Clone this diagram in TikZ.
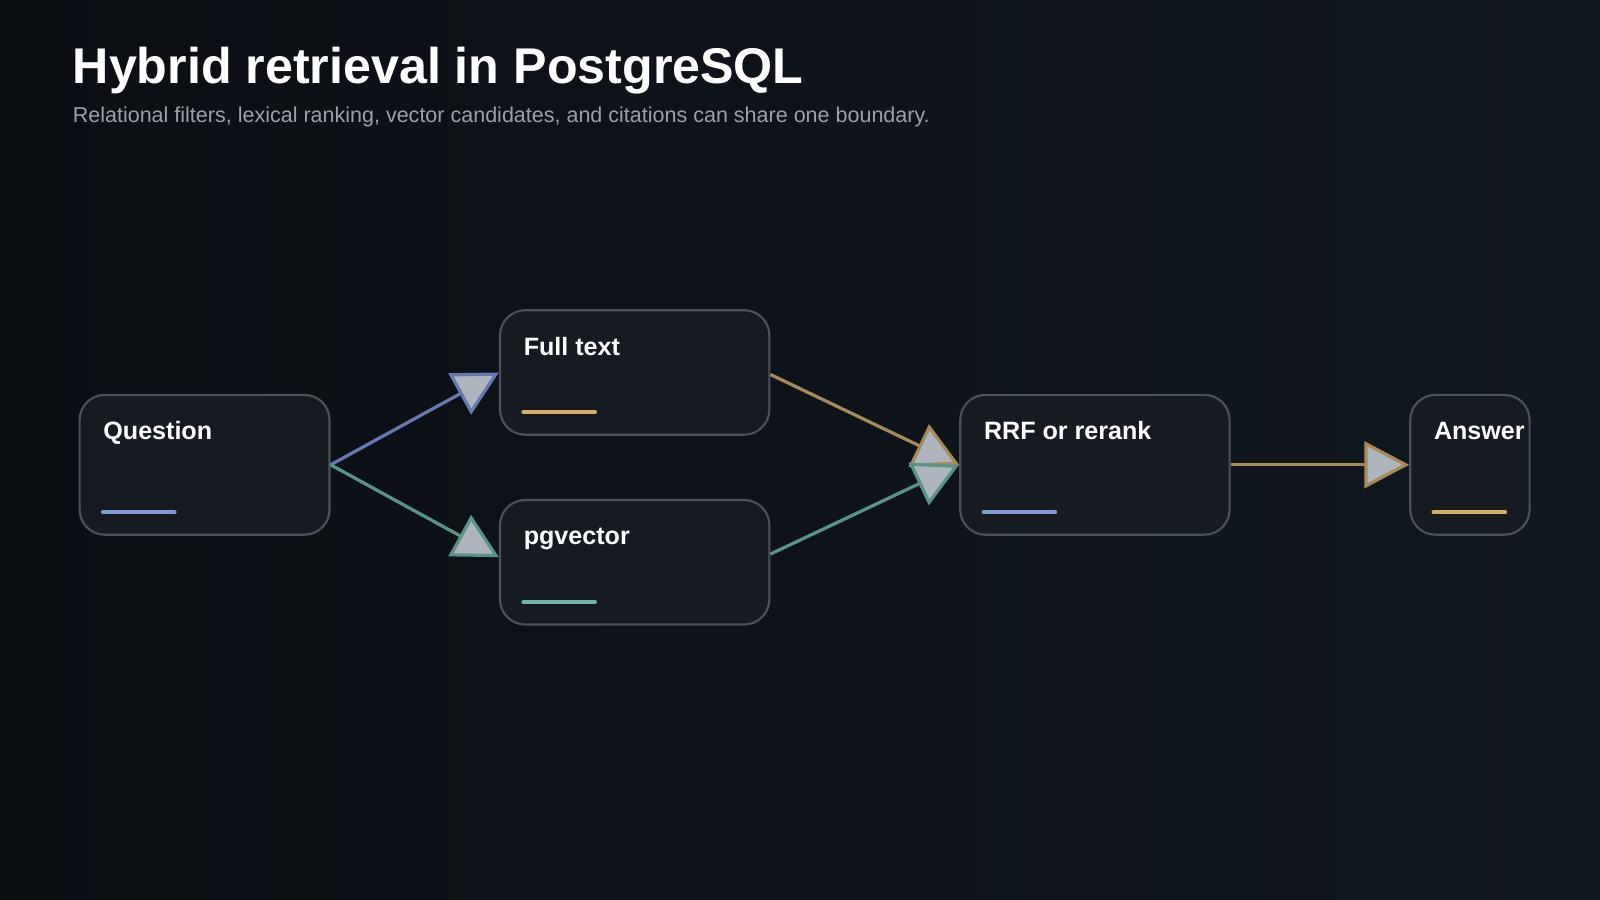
\documentclass[tikz,border=0pt]{standalone}
\usepackage{fontspec}
\setmainfont{Liberation Sans}
\usetikzlibrary{calc,positioning,arrows.meta}
\definecolor{bgA}{HTML}{0B0F14}
\definecolor{bgB}{HTML}{121820}
\definecolor{boxfill}{HTML}{161B22}
\definecolor{boxline}{HTML}{4B5159}
\definecolor{tipgray}{HTML}{AEB5BE}
\definecolor{subgray}{HTML}{9AA1AA}
\definecolor{barblue}{HTML}{7E9BD6}
\definecolor{bargold}{HTML}{D4AE63}
\definecolor{barteal}{HTML}{6BB3A3}
\definecolor{edgeblue}{HTML}{6679B0}
\definecolor{edgegold}{HTML}{A68A5A}
\definecolor{edgeteal}{HTML}{5A9486}
\tikzset{
% Box and label styles for the pipeline stages
stage/.style={rectangle,rounded corners=14,draw=boxline,line width=1.2,fill=boxfill,inner sep=0},
stage label/.style={anchor=base west,text=white,font=\bfseries\fontsize{14}{16}\selectfont,inner sep=0},
bar/.style={line width=2.4,line cap=round},
flow/.style={line width=1.8,-{Triangle[length=25pt,width=26pt,fill=tipgray]}}
}
\begin{document}
\begin{tikzpicture}[x=0.02cm,y=-0.02cm]
		% Background
		\shade[left color=bgA,right color=bgB] (0,0) rectangle (1568,882);
		\useasboundingbox (0,0) rectangle (1568,882);
		% Heading
		\node(title)[anchor=base west,inner sep=0,text=white,font=\bfseries\fontsize{28}{32}\selectfont] at (71,82) {Hybrid retrieval in PostgreSQL};
		\node(sub)[anchor=base west,inner sep=0,text=subgray,font=\fontsize{12}{14}\selectfont] at (71,120) {Relational filters, lexical ranking, vector candidates, and citations can share one boundary.};
		% The stages
		\node(q)[stage,minimum width=4.9cm,minimum height=2.74cm] at (200.5,455.5) {};
		\node(ft)[stage,minimum width=5.28cm,minimum height=2.44cm] at (622,365) {};
		\node(pv)[stage,minimum width=5.28cm,minimum height=2.44cm] at (622,551) {};
		\node(rr)[stage,minimum width=5.28cm,minimum height=2.74cm] at (1073,455.5) {};
		\node(an)[stage,minimum width=2.34cm,minimum height=2.74cm] at (1440.5,455.5) {};
		% Labels and colour bars
		\node[stage label] at ($(q.north west)+(24,45)$) {Question};
		\node[stage label] at ($(ft.north west)+(24,45)$) {Full text};
		\node[stage label] at ($(pv.north west)+(24,45)$) {pgvector};
		\node[stage label] at ($(rr.north west)+(24,45)$) {RRF or rerank};
		\node[stage label] at ($(an.north west)+(24,45)$) {Answer};
		\draw[bar,barblue] ($(q.south west)+(24,-23)$) -- ++(70,0);
		\draw[bar,bargold] ($(ft.south west)+(24,-23)$) -- ++(70,0);
		\draw[bar,barteal] ($(pv.south west)+(24,-23)$) -- ++(70,0);
		\draw[bar,barblue] ($(rr.south west)+(24,-23)$) -- ++(70,0);
		\draw[bar,bargold] ($(an.south west)+(24,-23)$) -- ++(70,0);
		% Connectors
		\draw[flow,edgeblue] (q.east) -- (ft.west);
		\draw[flow,edgeteal] (q.east) -- ($(pv.west)+(0,-5)$);
		\draw[flow,edgegold] ($(ft.east)+(0,2)$) -- (rr.west);
		\draw[flow,edgeteal] ($(pv.east)+(0,-8)$) -- (rr.west);
		\draw[flow,edgegold] (rr.east) -- (an.west);
	\end{tikzpicture}
\end{document}
